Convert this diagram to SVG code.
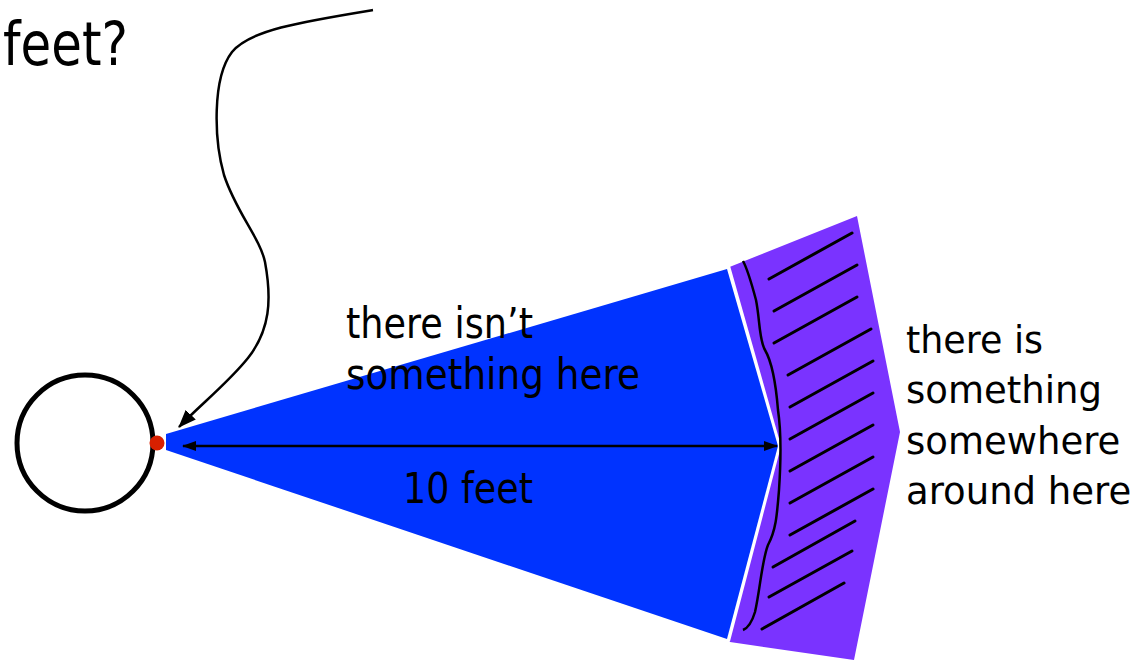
<svg xmlns="http://www.w3.org/2000/svg" width="1139" height="660" viewBox="0 0 1139 660">
<defs>
<style>
text{font-family:"DejaVu Sans","Liberation Sans",sans-serif;fill:#000;}
.lbl{font-size:43px;}
.rl{font-size:37px;}
.hatch{stroke:#000;stroke-width:3;stroke-linecap:round;}
.ln{fill:none;stroke:#000;}
</style>
<marker id="ah" viewBox="0 0 14 10" refX="13" refY="5" markerWidth="14" markerHeight="10" markerUnits="userSpaceOnUse" orient="auto-start-reverse">
<path d="M0,0 L14,5 L0,10 Z" fill="#000"/>
</marker>
<marker id="ah2" viewBox="0 0 18 14" refX="17" refY="7" markerWidth="18" markerHeight="14" markerUnits="userSpaceOnUse" orient="auto">
<path d="M0,0 L18,7 L0,14 Z" fill="#000"/>
</marker>
</defs>
<rect width="1139" height="660" fill="#fff"/>
<g id="title">
<text x="3" y="65" font-size="60" textLength="125" lengthAdjust="spacingAndGlyphs">feet?</text>
</g>
<g id="zone-purple">
<polygon points="727,268 857,216 900,432 854,660 730,642 727,639 778,446" fill="#7A33FF"/>
<polyline points="727,266 778,446 727,641" fill="none" stroke="#fff" stroke-width="6"/>
<path class="ln" stroke-width="2.5" d="M743,261 C748,270 752,285 756,300 C760,320 759,340 765,350 C772,362 776,385 778,410 C781,430 781,460 779,490 C777,515 776,530 768,545 C762,560 760,590 755,612 C752,622 748,628 743,630"/>
<g>
<line class="hatch" x1="769" y1="279" x2="852" y2="233"/>
<line class="hatch" x1="774" y1="311" x2="857" y2="265"/>
<line class="hatch" x1="774" y1="343" x2="857" y2="297"/>
<line class="hatch" x1="788" y1="375" x2="871" y2="329"/>
<line class="hatch" x1="790" y1="407" x2="873" y2="361"/>
<line class="hatch" x1="790" y1="439" x2="873" y2="393"/>
<line class="hatch" x1="790" y1="471" x2="873" y2="425"/>
<line class="hatch" x1="790" y1="503" x2="873" y2="457"/>
<line class="hatch" x1="790" y1="535" x2="873" y2="489"/>
<line class="hatch" x1="773" y1="567" x2="855" y2="521"/>
<line class="hatch" x1="769" y1="597" x2="852" y2="551"/>
<line class="hatch" x1="762" y1="629" x2="844" y2="583"/>
</g>
</g>
<g id="zone-blue">
<polygon points="166,434 727,269 778,446 727,639 166,450" fill="#0033FF"/>
</g>
<g id="sensor">
<circle cx="85" cy="443" r="68" fill="none" stroke="#000" stroke-width="5"/>
<circle cx="157" cy="443" r="7.5" fill="#D82000"/>
</g>
<g id="connectors">
<line x1="183" y1="446" x2="777" y2="446" stroke="#000" stroke-width="2.5" marker-start="url(#ah)" marker-end="url(#ah)"/>
<path class="ln" stroke-width="2.5" d="M373,10 C300,22 250,30 232,52 C212,78 214,140 224,175 C236,212 260,238 265,262 C272,300 270,330 248,358 C228,383 200,405 179,427" marker-end="url(#ah2)"/>
</g>
<g id="label-empty">
<text class="lbl" x="346" y="338" textLength="187" lengthAdjust="spacingAndGlyphs">there isn’t</text>
<text class="lbl" x="346" y="389" textLength="294" lengthAdjust="spacingAndGlyphs">something here</text>
</g>
<g id="label-distance">
<text class="lbl" x="403" y="503" textLength="130" lengthAdjust="spacingAndGlyphs">10 feet</text>
</g>
<g id="label-something">
<text class="rl" x="906" y="353" textLength="137" lengthAdjust="spacingAndGlyphs">there is</text>
<text class="rl" x="906" y="403" textLength="196" lengthAdjust="spacingAndGlyphs">something</text>
<text class="rl" x="906" y="454">somewhere</text>
<text class="rl" x="906" y="504">around here</text>
</g>
</svg>
